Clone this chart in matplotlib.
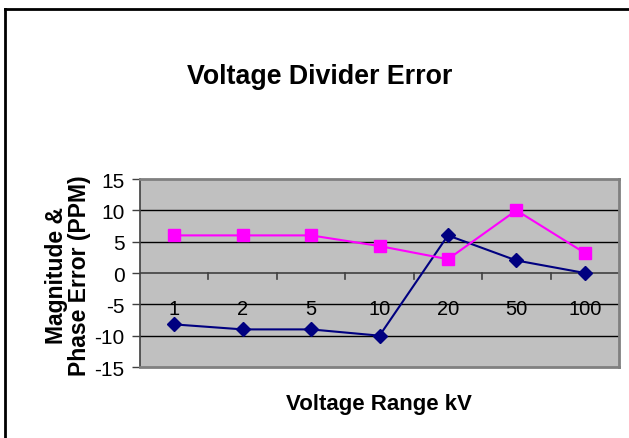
import numpy as np
import matplotlib
matplotlib.use("Agg")
import matplotlib.pyplot as plt
from matplotlib.lines import Line2D

# data
categories = ["1", "2", "5", "10", "20", "50", "100"]
magnitude = [-8.2, -9, -9, -10, 6, 2, 0]
phase = [6, 6, 6, 4.3, 2.2, 10, 3.2]
yticks = [-15, -10, -5, 0, 5, 10, 15]

plt.rcParams['font.family'] = ['Liberation Sans', 'DejaVu Sans']

W, H = 629, 439
fig = plt.figure(figsize=(W / 100, H / 100), dpi=100)

# outer chart border (left and top edges visible)
fig.add_artist(Line2D([5 / W, 5 / W], [0, 1 - 10 / H], transform=fig.transFigure,
                      color="black", lw=2, solid_capstyle="projecting"))
fig.add_artist(Line2D([5 / W, 1], [1 - 10 / H, 1 - 10 / H], transform=fig.transFigure,
                      color="black", lw=2, solid_capstyle="projecting"))

left, right, top, bottom = 140, 619, 180, 368
ax = fig.add_axes([left / W, 1 - bottom / H, (right - left) / W, (bottom - top) / H])
ax.set_facecolor("#C0C0C0")

x = np.arange(len(categories))
ax.set_xlim(-0.5, len(categories) - 0.5)
ax.set_ylim(-15, 15)
ax.set_yticks(yticks)
ax.set_yticklabels([str(v) for v in yticks], fontsize=15)
ax.tick_params(axis="y", length=6, width=1, color="#404040", pad=5)

for v in yticks[1:-1]:
    if v != 0:
        ax.axhline(v, color="black", lw=1, zorder=1)

# category axis crossing at zero
ax.axhline(0, color="#404040", lw=1.2, zorder=1)
for b in np.arange(0.5, len(categories) - 0.5, 1):
    ax.plot([b, b], [0, -0.95], color="#404040", lw=1.2, zorder=1, clip_on=False)
for xi, lab in zip(x, categories):
    ax.text(xi, -5.6, lab, ha="center", va="center", fontsize=14.5, zorder=2)
ax.set_xticks([])

for s in ["top", "right", "bottom"]:
    ax.spines[s].set_color("#808080")
    ax.spines[s].set_linewidth(2)
ax.spines["left"].set_color("#404040")
ax.spines["left"].set_linewidth(1.2)

ax.plot(x, magnitude, color="#000080", lw=1.5, marker="D", markersize=7,
        markerfacecolor="#000080", markeredgecolor="#000080", zorder=3, clip_on=False)
ax.plot(x, phase, color="#FF00FF", lw=1.5, marker="s", markersize=8,
        markerfacecolor="#FF00FF", markeredgecolor="#FF00FF", zorder=3, clip_on=False)

fig.text(320 / W, 1 - 77 / H, "Voltage Divider Error", ha="center", va="center",
         fontsize=19.3, fontweight="bold")
fig.text(379 / W, 1 - 405 / H, "Voltage Range kV", ha="center", va="center",
         fontsize=16, fontweight="bold")
fig.text(68 / W, 1 - 276 / H, "Magnitude &\nPhase Error (PPM)", ha="center", va="center",
         rotation=90, fontsize=16.5, fontweight="bold", linespacing=1.05)

fig.savefig("out.png", dpi=100)
